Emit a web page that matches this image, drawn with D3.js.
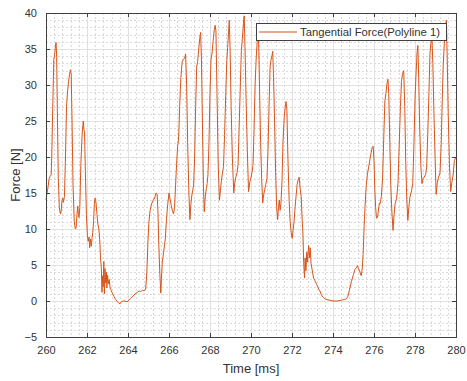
<!DOCTYPE html>
<html>
<head>
<meta charset="utf-8">
<script src="https://cdn.jsdelivr.net/npm/d3@7"></script>
<style>
  body { margin: 0; background: #fff; }
  svg { display: block; font-family: "Liberation Sans", Arial, sans-serif; }
</style>
</head>
<body>
<script>
// time [ms] and tangential force [N]
const timeMs = [
  260.00, 260.05, 260.10, 260.15, 260.20, 260.25, 260.28, 260.33, 260.38, 260.42, 260.46, 260.49, 260.52, 260.56, 260.60, 260.65, 260.70, 260.74, 260.78, 260.82,
  260.85, 260.90, 260.95, 261.00, 261.05, 261.10, 261.15, 261.19, 261.23, 261.27, 261.32, 261.38, 261.43, 261.47, 261.51, 261.55, 261.58, 261.61, 261.65, 261.70,
  261.76, 261.80, 261.82, 261.85, 261.88, 261.92, 261.97, 262.02, 262.06, 262.10, 262.13, 262.17, 262.21, 262.25, 262.28, 262.32, 262.36, 262.39, 262.42, 262.45,
  262.49, 262.53, 262.58, 262.62, 262.66, 262.70, 262.73, 262.76, 262.79, 262.82, 262.85, 262.88, 262.91, 262.94, 262.97, 263.00, 263.04, 263.08, 263.13, 263.19,
  263.25, 263.32, 263.40, 263.48, 263.55, 263.61, 263.68, 263.75, 263.85, 263.95, 264.05, 264.15, 264.25, 264.35, 264.45, 264.55, 264.62, 264.70, 264.78, 264.86,
  264.92, 264.97, 265.02, 265.08, 265.15, 265.23, 265.30, 265.37, 265.42, 265.46, 265.50, 265.55, 265.60, 265.63, 265.67, 265.72, 265.77, 265.82, 265.88, 265.94,
  266.00, 266.05, 266.10, 266.16, 266.22, 266.27, 266.32, 266.37, 266.42, 266.47, 266.52, 266.58, 266.64, 266.70, 266.76, 266.81, 266.86, 266.91, 266.97, 267.02,
  267.07, 267.11, 267.16, 267.20, 267.25, 267.30, 267.35, 267.40, 267.45, 267.50, 267.54, 267.58, 267.63, 267.68, 267.72, 267.77, 267.82, 267.86, 267.90, 267.95,
  268.00, 268.05, 268.10, 268.15, 268.20, 268.25, 268.29, 268.34, 268.40, 268.46, 268.51, 268.56, 268.62, 268.66, 268.71, 268.77, 268.82, 268.86, 268.90, 268.94,
  268.98, 269.03, 269.09, 269.16, 269.21, 269.27, 269.32, 269.37, 269.42, 269.48, 269.53, 269.58, 269.63, 269.67, 269.71, 269.76, 269.82, 269.88, 269.94, 270.00,
  270.06, 270.10, 270.15, 270.20, 270.25, 270.30, 270.34, 270.38, 270.42, 270.47, 270.52, 270.57, 270.62, 270.67, 270.72, 270.78, 270.83, 270.88, 270.93, 270.97,
  271.02, 271.06, 271.10, 271.15, 271.20, 271.25, 271.30, 271.34, 271.38, 271.42, 271.46, 271.51, 271.56, 271.62, 271.67, 271.71, 271.75, 271.80, 271.86, 271.91,
  271.96, 272.01, 272.05, 272.10, 272.15, 272.20, 272.25, 272.30, 272.35, 272.40, 272.45, 272.50, 272.53, 272.57, 272.61, 272.64, 272.68, 272.72, 272.76, 272.81,
  272.85, 272.89, 272.93, 272.98, 273.05, 273.12, 273.20, 273.28, 273.36, 273.44, 273.52, 273.60, 273.70, 273.85, 274.00, 274.20, 274.40, 274.55, 274.65, 274.72,
  274.80, 274.90, 275.00, 275.07, 275.14, 275.19, 275.25, 275.32, 275.38, 275.43, 275.47, 275.52, 275.56, 275.62, 275.68, 275.74, 275.80, 275.86, 275.91, 275.96,
  276.00, 276.04, 276.08, 276.12, 276.17, 276.21, 276.26, 276.30, 276.36, 276.42, 276.48, 276.53, 276.58, 276.63, 276.68, 276.72, 276.77, 276.82, 276.87, 276.93,
  276.98, 277.03, 277.10, 277.17, 277.23, 277.29, 277.34, 277.39, 277.45, 277.50, 277.55, 277.60, 277.65, 277.70, 277.75, 277.83, 277.89, 277.95, 278.00, 278.05,
  278.10, 278.14, 278.18, 278.23, 278.29, 278.34, 278.39, 278.45, 278.52, 278.57, 278.62, 278.68, 278.73, 278.78, 278.82, 278.87, 278.92, 278.98, 279.03, 279.09,
  279.15, 279.22, 279.28, 279.33, 279.38, 279.43, 279.48, 279.53, 279.57, 279.62, 279.68, 279.74, 279.80, 279.86, 279.92, 280.00
];
const forceN = [
  14.0, 15.0, 15.8, 17.0, 17.3, 17.5, 20.0, 27.0, 33.5, 34.2, 35.3, 35.9, 34.0, 25.0, 17.0, 13.0, 12.1, 12.5, 14.0, 14.3,
  13.7, 14.5, 20.0, 27.0, 29.0, 30.5, 31.5, 32.1, 31.5, 25.0, 16.0, 11.0, 10.0, 10.2, 12.0, 13.2, 12.0, 11.6, 13.0, 19.0,
  23.0, 24.5, 25.0, 23.8, 23.5, 18.0, 12.0, 9.0, 8.3, 8.9, 7.4, 8.6, 7.6, 8.8, 9.5, 11.0, 13.5, 14.3, 14.1, 13.3,
  12.0, 10.7, 10.0, 8.5, 6.0, 4.5, 1.2, 3.5, 2.0, 5.5, 1.0, 4.5, 2.5, 4.0, 1.8, 3.6, 2.4, 3.0, 1.8, 1.4,
  1.0, 0.6, 0.2, -0.1, -0.3, -0.4, -0.1, 0.0, 0.0, -0.1, 0.1, 0.4, 0.7, 1.0, 1.2, 1.4, 1.3, 1.5, 1.4, 1.6,
  4.0, 8.0, 11.0, 12.6, 13.5, 14.0, 14.3, 15.0, 14.8, 12.5, 8.0, 4.0, 1.1, 3.0, 5.3, 6.4, 7.5, 8.6, 11.5, 13.5,
  15.0, 14.2, 13.4, 12.6, 12.1, 13.0, 16.0, 19.0, 21.5, 22.5, 27.0, 31.0, 33.2, 33.6, 33.7, 34.3, 30.0, 22.0, 15.0, 11.3,
  13.5, 14.6, 15.4, 16.1, 20.0, 27.0, 32.5, 33.3, 35.0, 36.5, 37.3, 34.0, 25.0, 16.0, 12.4, 14.5, 15.6, 16.3, 17.5, 22.0,
  29.0, 33.6, 34.4, 36.0, 37.5, 38.3, 37.5, 29.0, 19.0, 14.0, 15.4, 16.8, 18.0, 18.7, 23.0, 29.0, 33.4, 35.2, 37.0, 39.0,
  35.0, 27.0, 20.0, 15.0, 16.5, 17.3, 17.8, 19.0, 24.0, 30.0, 34.8, 36.5, 38.5, 39.6, 35.0, 28.0, 21.0, 15.2, 16.5, 17.2,
  18.0, 19.0, 24.0, 30.0, 33.5, 36.0, 38.0, 35.0, 29.0, 22.0, 17.0, 13.6, 14.8, 15.5, 16.2, 17.0, 21.0, 27.0, 32.5, 33.4,
  34.0, 34.7, 31.0, 25.0, 18.0, 13.0, 11.3, 13.0, 14.0, 12.6, 13.5, 16.5, 22.0, 25.5, 27.0, 27.7, 26.5, 20.0, 14.0, 11.0,
  9.5, 8.7, 9.8, 11.0, 13.0, 14.6, 16.2, 16.8, 17.2, 15.5, 14.5, 11.0, 9.7, 5.3, 3.2, 6.0, 4.2, 6.8, 5.4, 7.7,
  6.0, 7.4, 5.2, 4.4, 3.2, 2.8, 2.3, 1.8, 1.4, 0.8, 0.5, 0.3, 0.2, 0.1, 0.0, 0.0, 0.1, 0.2, 0.3, 0.6,
  1.5, 2.7, 3.7, 4.4, 4.6, 4.9, 4.5, 4.0, 3.5, 4.6, 6.5, 10.5, 13.0, 16.0, 17.6, 18.6, 19.6, 20.6, 21.3, 21.5,
  19.5, 15.5, 13.0, 11.5, 11.6, 12.5, 13.6, 13.5, 14.5, 17.2, 23.0, 27.8, 28.8, 30.2, 30.8, 28.8, 22.0, 16.0, 12.5, 9.8,
  12.0, 13.5, 14.2, 16.3, 21.8, 27.0, 30.5, 31.5, 32.0, 27.0, 19.0, 14.0, 11.2, 13.0, 14.4, 15.3, 16.3, 22.0, 28.0, 31.5,
  34.5, 35.5, 31.0, 24.0, 18.5, 16.3, 17.0, 17.2, 17.6, 18.6, 23.0, 29.0, 34.3, 36.0, 37.2, 33.0, 26.5, 20.0, 14.8, 16.5,
  17.2, 17.8, 22.0, 28.0, 33.0, 35.7, 38.0, 39.0, 34.0, 26.0, 19.0, 15.2, 16.5, 17.5, 19.5, 20.0
];

const xTicks = [260, 262, 264, 266, 268, 270, 272, 274, 276, 278, 280];
const yTicks = [-5, 0, 5, 10, 15, 20, 25, 30, 35, 40];
const seriesName = "Tangential Force(Polyline 1)";

const width = 467;
const height = 381;
const margin = { top: 13, right: 11, bottom: 44, left: 46 };
const lineColor = "#d95319";
const textColor = "#333";

const svg = d3.select("body").append("svg")
  .attr("width", width)
  .attr("height", height);

const x = d3.scaleLinear()
  .domain([260, 280])
  .range([margin.left, width - margin.right]);

const y = d3.scaleLinear()
  .domain([-5, 40])
  .range([height - margin.bottom, margin.top]);

const data = timeMs.map((t, i) => ({ t: t, f: forceN[i] }));

// minor grid (every 0.4 ms, every 1 N)
const xMinor = d3.range(260, 280.001, 0.4).filter(v => Math.abs(v / 2 - Math.round(v / 2)) > 0.01);
const yMinor = d3.range(-5, 40.001, 1).filter(v => v % 5 !== 0);

svg.append("g").selectAll("line").data(xMinor).enter().append("line")
  .attr("x1", d => Math.round(x(d)) + 0.5).attr("x2", d => Math.round(x(d)) + 0.5)
  .attr("y1", y(40)).attr("y2", y(-5))
  .attr("stroke", "#d9d9d9").attr("stroke-dasharray", "2,2");

svg.append("g").selectAll("line").data(yMinor).enter().append("line")
  .attr("y1", d => Math.round(y(d)) + 0.5).attr("y2", d => Math.round(y(d)) + 0.5)
  .attr("x1", x(260)).attr("x2", x(280))
  .attr("stroke", "#d9d9d9").attr("stroke-dasharray", "2,2");

// major grid
svg.append("g").selectAll("line").data(xTicks).enter().append("line")
  .attr("x1", d => Math.round(x(d)) + 0.5).attr("x2", d => Math.round(x(d)) + 0.5)
  .attr("y1", y(40)).attr("y2", y(-5))
  .attr("stroke", "#e0e0e0");

svg.append("g").selectAll("line").data(yTicks).enter().append("line")
  .attr("y1", d => Math.round(y(d)) + 0.5).attr("y2", d => Math.round(y(d)) + 0.5)
  .attr("x1", x(260)).attr("x2", x(280))
  .attr("stroke", "#e0e0e0");

// the signal
svg.append("path")
  .datum(data)
  .attr("fill", "none")
  .attr("stroke", lineColor)
  .attr("stroke-width", 1)
  .attr("stroke-linejoin", "round")
  .attr("d", d3.line().x(d => x(d.t)).y(d => y(d.f)));

// axes, ticks pointing inward like matlab
const tickLen = 4;
const xAxisB = d3.axisBottom(x).tickValues(xTicks).tickSizeInner(-tickLen).tickSizeOuter(0).tickPadding(9);
const xAxisT = d3.axisTop(x).tickValues(xTicks).tickSizeInner(-tickLen).tickSizeOuter(0).tickFormat("");
const yAxisL = d3.axisLeft(y).tickValues(yTicks).tickSizeInner(-tickLen).tickSizeOuter(0).tickPadding(9);
const yAxisR = d3.axisRight(y).tickValues(yTicks).tickSizeInner(-tickLen).tickSizeOuter(0).tickFormat("");

function styleAxis(g) {
  g.select(".domain").remove();
  g.selectAll(".tick line").attr("stroke", "#404040");
  g.selectAll("text").attr("fill", textColor).style("font-size", "11px")
    .style("font-family", "'Liberation Sans', Arial, sans-serif");
}

svg.append("g").attr("transform", `translate(0,${y(-5)})`).call(xAxisB).call(styleAxis);
svg.append("g").attr("transform", `translate(0,${y(40)})`).call(xAxisT).call(styleAxis);
svg.append("g").attr("transform", `translate(${x(260)},0)`).call(yAxisL).call(styleAxis);
svg.append("g").attr("transform", `translate(${x(280)},0)`).call(yAxisR).call(styleAxis);

// box
svg.append("rect")
  .attr("x", Math.round(x(260)) + 0.5)
  .attr("y", Math.round(y(40)) + 0.5)
  .attr("width", Math.round(x(280)) - Math.round(x(260)))
  .attr("height", Math.round(y(-5)) - Math.round(y(40)))
  .attr("fill", "none")
  .attr("stroke", "#404040");

// axis labels
svg.append("text")
  .attr("x", (x(260) + x(280)) / 2)
  .attr("y", 373)
  .attr("text-anchor", "middle")
  .attr("fill", textColor)
  .style("font-size", "13px")
  .text("Time [ms]");

svg.append("text")
  .attr("transform", `translate(20,${(y(40) + y(-5)) / 2}) rotate(-90)`)
  .attr("text-anchor", "middle")
  .attr("fill", textColor)
  .style("font-size", "13px")
  .text("Force [N]");

// legend
const legend = svg.append("g");
legend.append("rect")
  .attr("x", 256.5).attr("y", 23.5)
  .attr("width", 190).attr("height", 17)
  .attr("fill", "#fff")
  .attr("stroke", "#404040");
legend.append("line")
  .attr("x1", 259).attr("x2", 297)
  .attr("y1", 32).attr("y2", 32)
  .attr("stroke", lineColor);
legend.append("text")
  .attr("x", 300).attr("y", 36)
  .attr("fill", textColor)
  .style("font-size", "11.3px")
  .text(seriesName);
</script>
</body>
</html>
